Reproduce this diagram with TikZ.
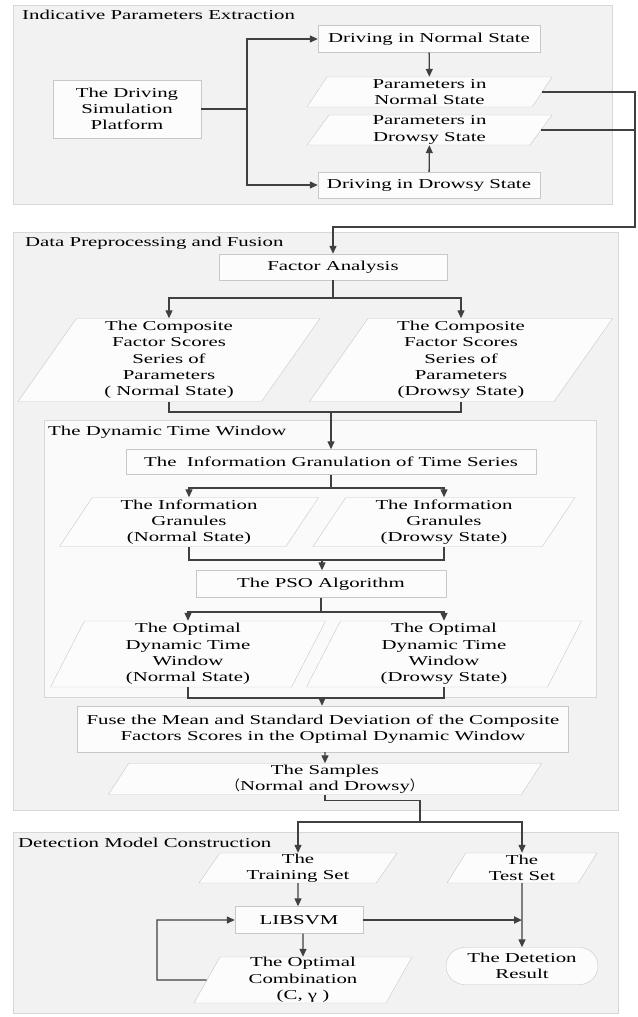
\documentclass[tikz,border=0pt]{standalone}
\usepackage{fontspec}
\setmainfont{Liberation Serif}[FakeStretch=1.53]
\newfontfamily\cjkfont{Noto Sans CJK SC}
\usetikzlibrary{arrows.meta,shapes.geometric,shapes.misc}

\definecolor{secfill}{RGB}{242,242,242}
\definecolor{secline}{RGB}{215,215,215}
\definecolor{winfill}{RGB}{250,250,250}
\definecolor{boxfill}{RGB}{252,252,252}
\definecolor{boxline}{RGB}{200,200,200}
\definecolor{arrowgray}{RGB}{64,64,64}
\newcommand\diagfont{\fontsize{13.6}{16.3}\selectfont}

\begin{document}
\begin{tikzpicture}[x=1pt,y=-1pt,
  section/.style={draw=secline,fill=secfill},
  window/.style={draw=secline,fill=winfill},
  title/.style={anchor=west,inner sep=0pt,font=\diagfont},
  proc/.style={draw=boxline,fill=boxfill,inner sep=0pt,align=center,font=\diagfont},
  io/.style={proc,trapezium,trapezium left angle=#1,trapezium right angle=180-#1,trapezium stretches body},
  result/.style={proc,rounded rectangle},
  line/.style={draw=arrowgray,line width=1.3pt},
  arrow/.style={line,-{Triangle[length=8pt,width=7pt]}}]
  \useasboundingbox (0,0) rectangle (637,1017);

  % Indicative parameters extraction
  \draw[section] (13,5) rectangle (612,204);
  \node[title] (t1) at (22,15) {Indicative Parameters Extraction};
  \node[proc,minimum width=148pt,minimum height=58pt] (plat) at (127,109) {The Driving\\Simulation\\Platform};
  \node[proc,minimum width=222pt,minimum height=27pt] (dnorm) at (429,39) {Driving in Normal State};
  \node[io=52,minimum width=245pt,minimum height=30pt] (pnorm) at (429.5,92) {Parameters in\\Normal State};
  \node[io=52,minimum width=245pt,minimum height=30pt] (pdrow) at (429.5,130) {Parameters in\\Drowsy State};
  \node[proc,minimum width=222pt,minimum height=26pt] (ddrow) at (429,185) {Driving in Drowsy State};

  % Data preprocessing and fusion
  \draw[section] (13,232) rectangle (618,810);
  \node[title] (t2) at (25,243) {Data Preprocessing and Fusion};
  \node[proc,minimum width=228pt,minimum height=26pt] (fa) at (333,267) {Factor Analysis};
  \node[io=53,minimum width=302pt,minimum height=83pt] (compn) at (169,360) {The Composite\\Factor Scores\\Series of\\Parameters\\( Normal State)};
  \node[io=53,minimum width=303pt,minimum height=83pt] (compd) at (461,360) {The Composite\\Factor Scores\\Series of\\Parameters\\(Drowsy State)};

  % dynamic time window
  \draw[window] (44,420) rectangle (596,697);
  \node[title] (t3) at (48,432) {The Dynamic Time Window};
  \node[proc,minimum width=410pt,minimum height=25pt] (ig) at (331,462) {The\ \ Information Granulation of Time Series};
  \node[io=54,minimum width=259pt,minimum height=49pt] (gn) at (189,522) {The Information\\Granules\\(Normal State)};
  \node[io=54,minimum width=262pt,minimum height=49pt] (gd) at (444,522) {The Information\\Granules\\(Drowsy State)};
  \node[proc,minimum width=250pt,minimum height=27pt] (pso) at (321,584) {The PSO Algorithm};
  \node[io=61,minimum width=275pt,minimum height=66pt] (on) at (188,654) {The Optimal\\Dynamic Time\\Window\\(Normal State)};
  \node[io=61,minimum width=275pt,minimum height=66pt] (od) at (444,654) {The Optimal\\Dynamic Time\\Window\\(Drowsy State)};

  \node[proc,minimum width=491pt,minimum height=46pt] (fuse) at (323,729) {Fuse the Mean and Standard Deviation of the Composite\\Factors Scores in the Optimal Dynamic Window};
  \node[io=55,minimum width=433pt,minimum height=31pt] (samp) at (325,779) {The Samples\\{\cjkfont （}Normal and Drowsy{\cjkfont ）}};

  % Detection model construction
  \draw[section] (13,832) rectangle (618,1013);
  \node[title] (t4) at (18,843) {Detection Model Construction};
  \node[io=54,minimum width=198pt,minimum height=30pt] (train) at (298,868) {The\\Training Set};
  \node[io=54,minimum width=150pt,minimum height=30pt] (test) at (522,868) {The\\Test Set};
  \node[proc,minimum width=128pt,minimum height=27pt] (svm) at (299,920) {LIBSVM};
  \node[result,minimum width=152pt,minimum height=37pt] (res) at (522,966) {The Detetion\\Result};
  \node[io=60,minimum width=218pt,minimum height=46pt] (comb) at (303,980) {The Optimal\\Combination\\(C, γ )};

  % connectors
  \coordinate (s1) at (247,109);
  \coordinate (m1) at (635,227);
  \coordinate (f2) at (333,298);
  \coordinate (j2) at (331,412);
  \coordinate (f3) at (331,488);
  \coordinate (j3) at (322,560);
  \coordinate (f4) at (321,612);
  \coordinate (j4) at (322,698);
  \coordinate (k1) at (420,822);
  \coordinate (b1) at (157,980);

  \draw[line] (plat) -- (s1);
  \draw[arrow] (s1) |- (dnorm);
  \draw[arrow] (s1) |- (ddrow);
  \draw[arrow] (dnorm) -- (pnorm);
  \draw[arrow] (ddrow) -- (pdrow);
  \draw[line] (pdrow.east) -- (pdrow.east -| m1);
  \draw[arrow] (pnorm.east) -| (m1) -| (fa);

  \draw[line] (fa) -- (f2);
  \draw[arrow] (f2) -| (compn);
  \draw[arrow] (f2) -| (compd);
  \draw[line] (compn) |- (j2) -| (compd);
  \draw[arrow] (j2) -- (j2 |- ig.north);

  \draw[line] (ig.south -| f3) -- (f3);
  \draw[arrow] (f3) -| (gn);
  \draw[arrow] (f3) -| (gd);
  \draw[line] (gn) |- (j3) -| (gd);
  \draw[arrow] (j3) -- (j3 |- pso.north);

  \draw[line] (pso) -- (f4);
  \draw[arrow] (f4) -| (on);
  \draw[arrow] (f4) -| (od);
  \draw[line] (on) |- (j4) -| (od);
  \draw[arrow] (j4) -- (j4 |- fuse.north);
  \draw[arrow] (fuse.south -| samp) -- (samp);

  \draw[line] (samp.south) -- ++(0,6) -| (k1);
  \draw[arrow] (k1) -| (train);
  \draw[arrow] (k1) -| (test);
  \draw[arrow] (train) -- (train.south |- svm.north);
  \draw[arrow] (test) -- (res);
  \draw[arrow,line width=2pt] (svm) -- (svm -| res);
  \draw[arrow] (svm.south -| comb) -- (comb);
  \draw[arrow] (comb.west) -- (b1) |- (svm);
\end{tikzpicture}
\end{document}
